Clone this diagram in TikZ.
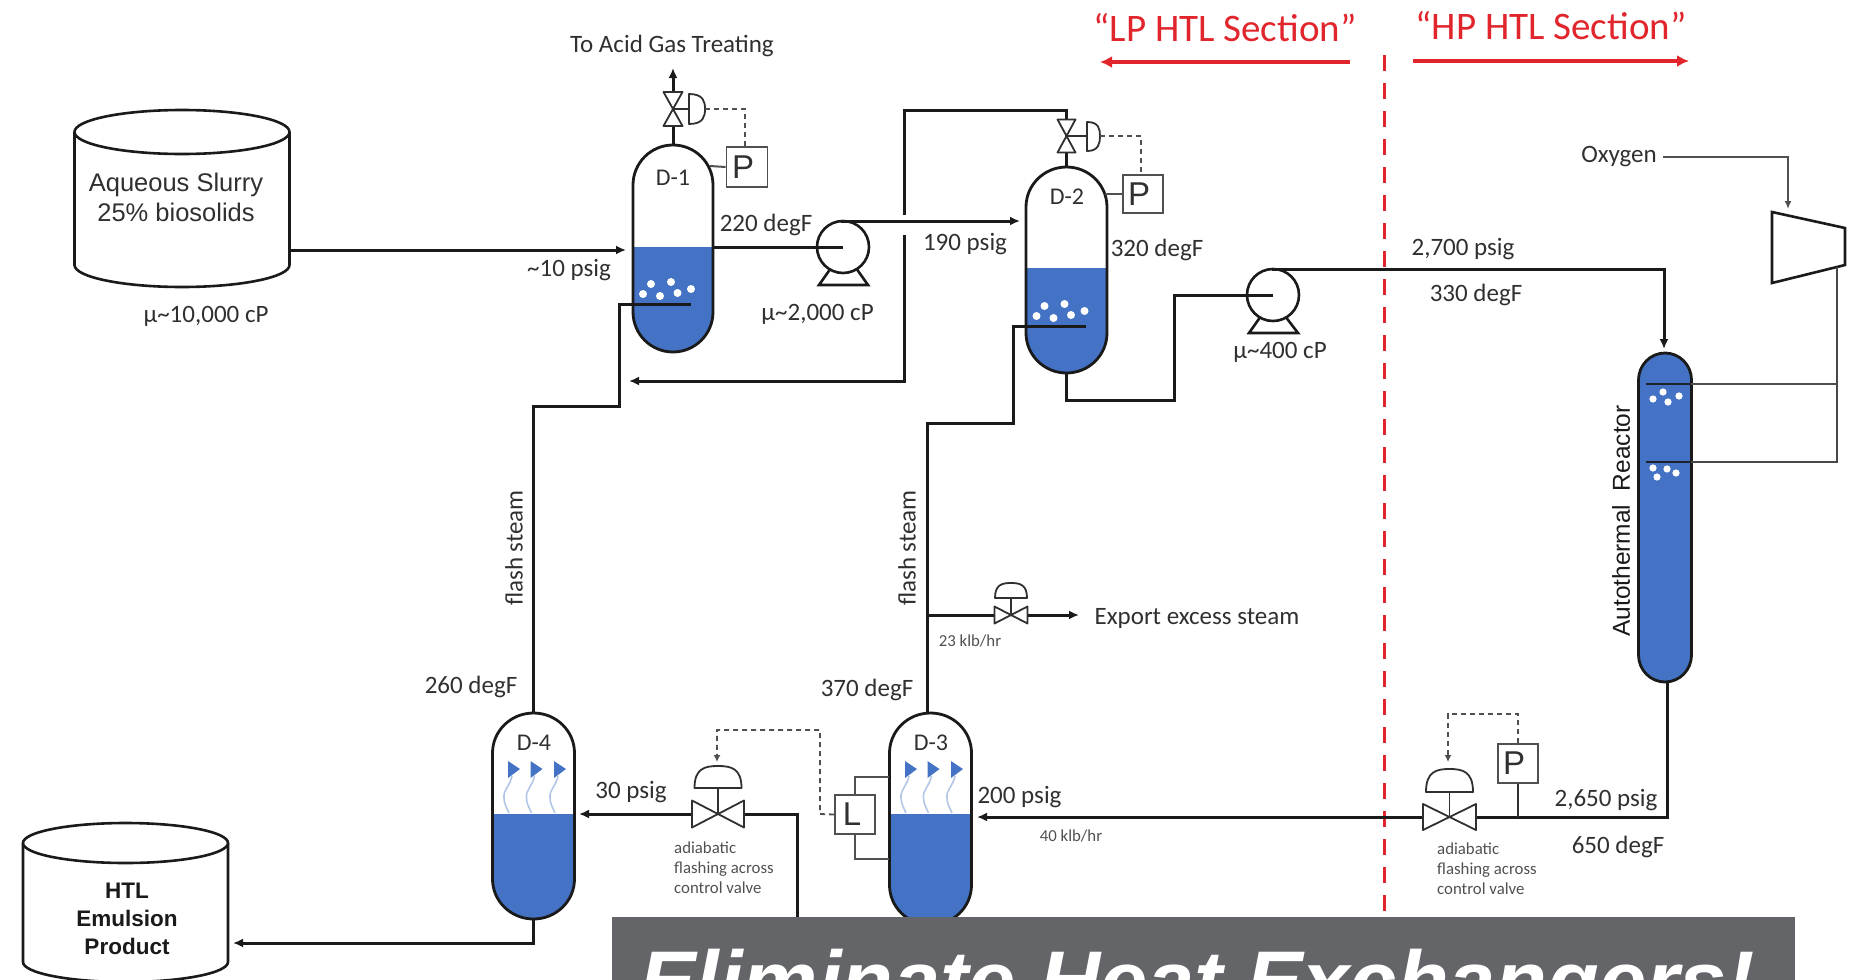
\documentclass[tikz,border=0pt]{standalone}
\usepackage{fontspec}
\setmainfont{Carlito}
\newfontfamily\arialfont{Liberation Sans}
\usetikzlibrary{arrows.meta}
\definecolor{liq}{HTML}{4472C4}
\definecolor{ink}{HTML}{1A1A1A}
\definecolor{txt}{HTML}{303030}
\definecolor{soft}{HTML}{505050}
\definecolor{redline}{HTML}{E0252C}
\definecolor{steamc}{HTML}{B4C6E7}
\definecolor{bannerc}{HTML}{646569}
\tikzset{
  x=1pt,y=-1pt,
  pipe/.style={draw=ink,line width=3pt,line join=miter},
  pipearrow/.style={pipe,-{Latex[length=10pt,width=9pt]}},
  thinline/.style={draw=soft,line width=2pt},
  thinarrow/.style={thinline,-{Latex[length=8pt,width=7pt]}},
  ctrl/.style={draw=soft,line width=1.8pt,dash pattern=on 5pt off 4pt},
  ctrlarrow/.style={ctrl,-{Latex[length=7pt,width=7pt]}},
  valveline/.style={draw=txt,line width=1.8pt,fill=white,line join=round},
  vesselline/.style={draw=ink,line width=2.8pt},
  lbl/.style={font=\fontsize{25}{30}\selectfont,text=txt,inner sep=0pt,yshift=-2pt},
  tag/.style={font=\fontsize{24}{28}\selectfont,text=txt,inner sep=0pt},
  small/.style={font=\fontsize{16.8}{20}\selectfont,text=soft,inner sep=0pt,align=left},
  redtitle/.style={font=\fontsize{39}{44}\selectfont,text=redline,inner sep=0pt},
  redarrow/.style={draw=redline,line width=3.5pt,-{Latex[length=12pt,width=12pt]}},
  instr/.style={draw=soft,line width=1.8pt,fill=white,inner sep=0pt,text=txt,font=\arialfont\fontsize{33}{34}\selectfont},
  pumpc/.style={circle,draw=ink,line width=2.6pt,fill=white,minimum size=52pt,inner sep=0pt},
}
% name, cx, top, bottom, level, r, ry
\newcommand{\vesselshape}[7]{%
  \pgfmathsetmacro{\vl}{#2-#6}\pgfmathsetmacro{\vr}{#2+#6}%
  \pgfmathsetmacro{\vka}{#6*0.5523}\pgfmathsetmacro{\vkb}{#7*0.5523}%
  \pgfmathsetmacro{\vaT}{#3+#7}\pgfmathsetmacro{\vaB}{#4-#7}%
  \def\vesselpath{(\vl,\vaT) .. controls (\vl,{\vaT-\vkb}) and ({#2-\vka},#3) .. (#2,#3)
    .. controls ({#2+\vka},#3) and (\vr,{\vaT-\vkb}) .. (\vr,\vaT) -- (\vr,\vaB)
    .. controls (\vr,{\vaB+\vkb}) and ({#2+\vka},#4) .. (#2,#4)
    .. controls ({#2-\vka},#4) and (\vl,{\vaB+\vkb}) .. (\vl,\vaB) -- cycle}%
  \fill[white] \vesselpath;
  \begin{scope}
    \clip \vesselpath;
    \fill[liq] (\vl,#5) rectangle (\vr,#4);
  \end{scope}
  \draw[vesselline] \vesselpath;
  \coordinate (#1top) at (#2,#3);
  \coordinate (#1bot) at (#2,#4);
}
% name, left, right, top centre, bottom centre, ry
\newcommand{\tankshape}[6]{%
  \pgfmathsetmacro{\tc}{(#2+#3)/2}\pgfmathsetmacro{\trx}{(#3-#2)/2}%
  \draw[draw=ink,line width=2.6pt,fill=white] (#2,#4) -- (#2,#5)
    .. controls (#2,{#5+#6*0.55}) and ({\tc-\trx*0.55},{#5+#6}) .. (\tc,{#5+#6})
    .. controls ({\tc+\trx*0.55},{#5+#6}) and (#3,{#5+#6*0.55}) .. (#3,#5) -- (#3,#4);
  \draw[draw=ink,line width=2.6pt,fill=white] (\tc,#4) ellipse [x radius=\trx pt,y radius=#6 pt];
  \coordinate (#1r) at (#3,#5);
}
% cx cy halfw halfh domehalfw flaty topy
\newcommand{\hvalve}[7]{%
  \draw[valveline] ({#1-#3},{#2-#4}) -- (#1,#2) -- ({#1-#3},{#2+#4}) -- cycle;
  \draw[valveline] ({#1+#3},{#2-#4}) -- (#1,#2) -- ({#1+#3},{#2+#4}) -- cycle;
  \draw[valveline] (#1,#2) -- (#1,#6);
  \draw[valveline] ({#1-#5},#6) .. controls ({#1-#5},{#7+(#6-#7)*0.1}) and ({#1-#5*0.55},#7) .. (#1,#7)
    .. controls ({#1+#5*0.55},#7) and ({#1+#5},{#7+(#6-#7)*0.1}) .. ({#1+#5},#6) -- cycle;
}
% cx cy halfw halfh x0 x1 ytop ybot
\newcommand{\vvalve}[8]{%
  \draw[valveline] ({#1-#3},{#2-#4}) -- (#1,#2) -- ({#1+#3},{#2-#4}) -- cycle;
  \draw[valveline] ({#1-#3},{#2+#4}) -- (#1,#2) -- ({#1+#3},{#2+#4}) -- cycle;
  \draw[valveline] (#1,#2) -- (#5,#2);
  \draw[valveline] (#5,#7) .. controls ({#5+(#6-#5)*0.9},#7) and (#6,{#2-(#8-#7)*0.25}) .. (#6,#2)
    .. controls (#6,{#2+(#8-#7)*0.25}) and ({#5+(#6-#5)*0.9},#8) .. (#5,#8) -- cycle;
}
\newcommand{\bubbles}[2]{%
  \foreach \dx/\dy in {-22/-20,-2/-22,18/-15,4.5/-11,-13/-8,-30/-10}
    \fill[white] ({#1+\dx},{#2+\dy}) circle (4pt);
}
\newcommand{\steam}[1]{%
  \draw[steamc,line width=1.6pt] ({#1-1},776) .. controls ({#1-3},786) and ({#1-10},790) .. ({#1-9},798)
    .. controls ({#1-9},804) and ({#1-6},808) .. ({#1-4},813);
  \fill[liq] ({#1-5},761) -- ({#1+7},769) -- ({#1-5},778) -- cycle;
}
\begin{document}
\begin{tikzpicture}
\useasboundingbox (0,0) rectangle (1856,980);

% section divider
\coordinate (divT) at (1384,55);
\coordinate (divB) at (1384,917);
\draw[redline,line width=3pt,dash pattern=on 16pt off 12pt] (divT) -- (divB);

% routing points
\coordinate (feedEnd) at (626,250);
\coordinate (ventEnd) at (673,68);
\coordinate (v2up) at (1066.5,110);
\coordinate (retC) at (904,110);
\coordinate (gapA) at (904,215);
\coordinate (gapB) at (904,235);
\coordinate (retD) at (904,381);
\coordinate (retEnd) at (629,381);
\coordinate (sp1) at (691,304);
\coordinate (sp1a) at (619,304);
\coordinate (sp1b) at (619,406);
\coordinate (sp1c) at (533.5,406);
\coordinate (sp2) at (1086,326);
\coordinate (sp2a) at (1013,326);
\coordinate (sp2b) at (1013,423);
\coordinate (sp2c) at (927,423);
\coordinate (d3nozzle) at (927,713);
\coordinate (d2a) at (1066.5,400);
\coordinate (d2b) at (1174,400);
\coordinate (d2c) at (1174,295);

% vessels
\vesselshape{Done}{673}{145}{352}{247}{40}{40}
\vesselshape{Dtwo}{1066.5}{167}{373}{268}{40.5}{40}
\vesselshape{Dfour}{533.5}{713}{919}{814}{41}{40}
\vesselshape{Dthree}{930.5}{713}{925}{814}{41}{40}
\vesselshape{Rx}{1665}{353}{682}{353}{26.5}{27}
\bubbles{673}{304}
\bubbles{1066.5}{326}
\foreach \px/\py in {1653/399,1663/392,1668/402,1679/396,1653/468,1667/469,1657/477,1676/473}
  \fill[white] (\px,\py) circle (3.6pt);
\foreach \sx in {513,535.5,559,910,932.5,956} {\steam{\sx}}

% tanks
\tankshape{TankA}{74.5}{289.5}{132}{265}{22}
\tankshape{TankB}{23}{228}{843}{962}{20}

% feed and main pipes
\coordinate (feedStart) at (289.5,250);
\draw[pipearrow] (feedStart) -- (feedEnd);
\draw[pipe] (sp1) -- (sp1a) -- (sp1b) -- (sp1c) -- (Dfourtop);
\draw[pipe] (sp2) -- (sp2a) -- (sp2b) -- (sp2c) -- (d3nozzle);
\draw[pipe] (Dtwotop) -- (v2up) -- (retC) -- (gapA);
\draw[pipearrow] (gapB) -- (retD) -- (retEnd);
\draw[pipe] (Dtwobot) -- (d2a) -- (d2b) -- (d2c) -- (1272,295);
\draw[pipe] (713,247) -- (843,247);
\draw[pipearrow] (Donetop) -- (ventEnd);

% pumps
\coordinate (p1base1) at (819,285); \coordinate (p1base2) at (868,285);
\coordinate (p1base3) at (831,268); \coordinate (p1base4) at (856,268);
\draw[draw=ink,line width=2.6pt,fill=white] (p1base3) -- (p1base1) -- (p1base2) -- (p1base4);
\node[pumpc] (pumpA) at (843,247) {};
\draw[pipe] (pumpA.west) -- (pumpA.center);
\coordinate (p2base1) at (1249,333); \coordinate (p2base2) at (1298,333);
\coordinate (p2base3) at (1261,316); \coordinate (p2base4) at (1285,316);
\draw[draw=ink,line width=2.6pt,fill=white] (p2base3) -- (p2base1) -- (p2base2) -- (p2base4);
\node[pumpc] (pumpB) at (1273,295) {};
\draw[pipe] (pumpB.west) -- (pumpB.center);
\coordinate (pAtop) at (841,221); \coordinate (feedD2) at (1020,221);
\draw[pipearrow] (pAtop) -- (feedD2);
\coordinate (pBtop) at (1272,269); \coordinate (rxCorner) at (1664,269); \coordinate (rxIn) at (1664,349);
\draw[pipearrow] (pBtop) -- (rxCorner) -- (rxIn);

% top valves and pressure loops
\vvalve{673}{109}{9.5}{17}{689}{705}{94}{124}
\node[instr,minimum width=41pt,minimum height=40pt] (PA) at (747,167) {P\hspace*{8pt}};
\draw[thinline] (710,166) -- (PA.west);
\coordinate (cA1) at (705,109); \coordinate (cA2) at (745,109);
\draw[ctrl] (cA1) -- (cA2) -- (PA.north -| cA2);
\vvalve{1066.5}{136}{9}{16.5}{1087}{1100}{122}{151}
\node[instr,minimum width=40pt,minimum height=38pt] (PB) at (1143,194) {P\hspace*{8pt}};
\draw[thinline] (1105,194) -- (PB.west);
\coordinate (cB1) at (1100,136); \coordinate (cB2) at (1141,136);
\draw[ctrl] (cB1) -- (cB2) -- (PB.north -| cB2);

% lower piping
\coordinate (rxOut) at (1667,682);
\coordinate (rxElbow) at (1667,817);
\coordinate (d3In) at (977,817);
\draw[pipe] (rxOut) -- (rxElbow) -- (1476,817);
\draw[pipearrow] (1423,817) -- (d3In);
\coordinate (d4Out) at (579,814);
\draw[pipearrow] (692,814) -- (d4Out);
\coordinate (vEl) at (797,814);
\coordinate (vElB) at (797,930);
\draw[pipe] (744,814) -- (vEl) -- (vElB);
\coordinate (prodEl) at (533.5,943);
\coordinate (prodEnd) at (233,943);
\draw[pipearrow] (Dfourbot) -- (prodEl) -- (prodEnd);
\coordinate (expA) at (927,615);
\coordinate (expEnd) at (1079,615);
\draw[pipe] (expA) -- (995,615);
\draw[pipearrow] (1028,615) -- (expEnd);

% lower valves
\hvalve{718}{814}{26}{13.5}{23.5}{788}{766}
\hvalve{1449.5}{817}{26.5}{13}{23.5}{792}{769}
\hvalve{1011}{615}{16.5}{8.5}{16}{598}{583}

% level instrument
\node[instr,minimum width=40pt,minimum height=39pt] (LA) at (855,814.5) {L\hspace*{6pt}};
\coordinate (lvlT) at (889,777); \coordinate (lvlB) at (889,859);
\coordinate (lvlTx) at (855,777); \coordinate (lvlBx) at (855,859);
\draw[thinline] (lvlT) -- (lvlTx) -- (LA.north);
\draw[thinline] (lvlB) -- (lvlBx) -- (LA.south);
\coordinate (cL1) at (820,814); \coordinate (cL2) at (820,730); \coordinate (cL3) at (717,730); \coordinate (cL4) at (717,762);
\draw[ctrlarrow] (LA.west) -- (cL1) -- (cL2) -- (cL3) -- (cL4);

% pressure loop on HP letdown
\node[instr,minimum width=40pt,minimum height=39pt] (PC) at (1518,763.5) {P\hspace*{8pt}};
\coordinate (pcTap) at (1518,817);
\draw[draw=txt,line width=2.4pt] (PC.south) -- (pcTap);
\coordinate (cP1) at (1518,714); \coordinate (cP2) at (1448,714); \coordinate (cP3) at (1448,762);
\draw[ctrlarrow] (PC.north) -- (cP1) -- (cP2) -- (cP3);

% oxygen compressor
\coordinate (cmp1) at (1772,212); \coordinate (cmp2) at (1845,228);
\coordinate (cmp3) at (1845,265); \coordinate (cmp4) at (1772,283);
\draw[draw=ink,line width=2.6pt,fill=white] (cmp1) -- (cmp2) -- (cmp3) -- (cmp4) -- cycle;
\coordinate (oxA) at (1663,157); \coordinate (oxB) at (1788,157); \coordinate (oxC) at (1788,209);
\draw[thinarrow] (oxA) -- (oxB) -- (oxC);
\coordinate (g0) at (1837,267); \coordinate (g1) at (1837,384); \coordinate (g2) at (1837,462);
\coordinate (sg1) at (1646,384); \coordinate (sg2) at (1646,462);
\coordinate (wall1) at (1691,384); \coordinate (wall2) at (1691,462);
\draw[thinline,draw=ink!80] (g0) -- (g2) -- (wall2);
\draw[thinline,draw=soft] (g1) -- (wall1);
\draw[draw=ink!90!liq,line width=2.6pt] (sg1) -- (wall1);
\draw[draw=ink!90!liq,line width=2.6pt] (sg2) -- (wall2);

% red section headers
\node[redtitle] (lpT) at (1225,28) {“LP HTL Section”};
\node[redtitle] (hpT) at (1551,26) {“HP HTL Section”};
\coordinate (lpA) at (1350,62); \coordinate (lpB) at (1100,62);
\coordinate (hpA) at (1413,61); \coordinate (hpB) at (1689,61);
\draw[redarrow] (lpA) -- (lpB);
\draw[redarrow] (hpA) -- (hpB);

% labels
\node[lbl] (tAcid) at (672,44) {To Acid Gas Treating};
\node[inner sep=0pt,align=center,text=txt,font=\arialfont\fontsize{25.5}{30}\selectfont] (tSlurry) at (176,197) {Aqueous Slurry\\25\% biosolids};
\node[lbl] (tMu1) at (206,314) {µ\textasciitilde10,000 cP};
\node[lbl] (t10) at (569,268) {\textasciitilde10 psig};
\node[tag] (tD1) at (673,178) {D-1};
\node[tag] (tD2) at (1067,197) {D-2};
\node[tag] (tD3) at (931,743) {D-3};
\node[tag] (tD4) at (534,743) {D-4};
\node[lbl] (t220) at (766,223) {220 degF};
\node[lbl] (tMu2) at (817.5,312) {µ\textasciitilde2,000 cP};
\node[lbl] (t190) at (965,242) {190 psig};
\node[lbl] (t320) at (1157,248) {320 degF};
\node[lbl] (tMu3) at (1280,350) {µ\textasciitilde400 cP};
\node[lbl] (t2700) at (1463,247) {2,700 psig};
\node[lbl] (t330) at (1476,293) {330 degF};
\node[lbl] (tOxy) at (1619,155) {Oxygen};
\node[inner sep=0pt,rotate=90,text=ink,font=\arialfont\fontsize{24.5}{28}\selectfont] (tRx) at (1621,521) {Autothermal\ \ Reactor};
\node[lbl,rotate=90,yshift=2pt,xshift=-2pt] (tFlash1) at (516,544) {flash steam};
\node[lbl,rotate=90,yshift=2pt,xshift=-2pt] (tFlash2) at (909,544) {flash steam};
\node[lbl] (tExport) at (1197,616) {Export excess steam};
\node[small] (t23) at (970,641) {23 klb/hr};
\node[small] (t40) at (1071,836) {40 klb/hr};
\node[lbl] (t260) at (471,685) {260 degF};
\node[lbl] (t370) at (867,688) {370 degF};
\node[lbl] (t30) at (631,790) {30 psig};
\node[lbl] (t200) at (1019.5,795) {200 psig};
\node[lbl] (t2650) at (1606,798) {2,650 psig};
\node[lbl] (t650) at (1618,845) {650 degF};
\node[small,anchor=north west] (tAdi1) at (674,842) {adiabatic\\flashing across\\control valve};
\node[small,anchor=north west] (tAdi2) at (1437,843) {adiabatic\\flashing across\\control valve};
\node[inner sep=0pt,align=center,text=ink,font=\arialfont\bfseries\fontsize{22.5}{28}\selectfont] (tHtl) at (127,919) {HTL\\Emulsion\\Product};

% banner
\begin{scope}
  \clip (0,0) rectangle (1856,980);
  \fill[bannerc] (612,917) rectangle (1795,980);
  \node[anchor=base west,inner sep=0pt,text=white,font=\arialfont\bfseries\itshape\fontsize{84.7}{90}\selectfont] (tBanner) at (639,1010) {Eliminate Heat Exchangers!};
\end{scope}
\end{tikzpicture}
\end{document}
